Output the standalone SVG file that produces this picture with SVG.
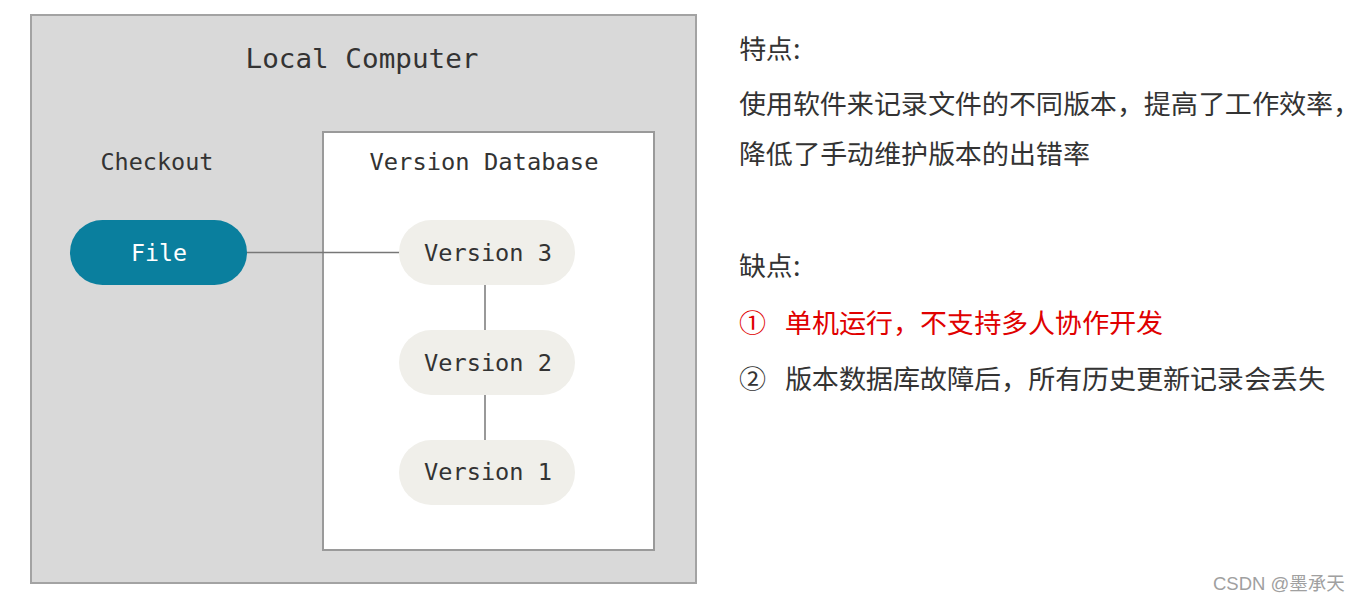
<svg xmlns="http://www.w3.org/2000/svg" width="1360" height="603" viewBox="0 0 1360 603">
<style>
.mono{font-family:"DejaVu Sans Mono","Liberation Mono",monospace;fill:#333;}
.cn{font-family:"Noto Sans SC","Noto Sans CJK SC",sans-serif;font-size:27px;fill:#333;}
.ver{fill:#f0efea;}
.conn{stroke:#777;stroke-width:1.5;fill:none;}
</style>
<rect width="1360" height="603" fill="#ffffff"/>
<g id="local-computer">
<rect x="31" y="15" width="665" height="568" fill="#d9d9d9" stroke="#a3a3a3" stroke-width="2"/>
<text class="mono" x="362" y="68" font-size="27" text-anchor="middle" textLength="233" lengthAdjust="spacingAndGlyphs">Local Computer</text>
</g>
<g id="checkout">
<text class="mono" x="157" y="170" font-size="23" text-anchor="middle" textLength="113" lengthAdjust="spacingAndGlyphs">Checkout</text>
</g>
<g id="version-database">
<rect x="323" y="132" width="331" height="418" fill="#ffffff" stroke="#9a9a9a" stroke-width="2"/>
<text class="mono" x="484" y="170" font-size="23" text-anchor="middle" textLength="229" lengthAdjust="spacingAndGlyphs">Version Database</text>
</g>
<g id="connectors">
<line class="conn" x1="246" y1="252.5" x2="400" y2="252.5"/>
<line class="conn" x1="485" y1="284" x2="485" y2="331"/>
<line class="conn" x1="485" y1="394" x2="485" y2="441"/>
</g>
<g id="file">
<rect x="70" y="220" width="177" height="65" rx="32.5" fill="#0a7f9e"/>
<text class="mono" x="159" y="261" font-size="23" text-anchor="middle" style="fill:#ffffff" textLength="56" lengthAdjust="spacingAndGlyphs">File</text>
</g>
<g id="version-3">
<rect class="ver" x="399" y="220" width="176" height="65" rx="32.5"/>
<text class="mono" x="488" y="261" font-size="23" text-anchor="middle" textLength="128" lengthAdjust="spacingAndGlyphs">Version 3</text>
</g>
<g id="version-2">
<rect class="ver" x="399" y="330" width="176" height="65" rx="32.5"/>
<text class="mono" x="488" y="371" font-size="23" text-anchor="middle" textLength="128" lengthAdjust="spacingAndGlyphs">Version 2</text>
</g>
<g id="version-1">
<rect class="ver" x="399" y="440" width="176" height="65" rx="32.5"/>
<text class="mono" x="488" y="480" font-size="23" text-anchor="middle" textLength="128" lengthAdjust="spacingAndGlyphs">Version 1</text>
</g>
<g id="notes">
<text class="cn" x="739" y="59">特点:</text>
<text class="cn" x="739" y="114">使用软件来记录文件的不同版本，提高了工作效率，</text>
<text class="cn" x="739" y="164">降低了手动维护版本的出错率</text>
<text class="cn" x="739" y="276">缺点:</text>
<text class="cn" x="739" y="333" style="fill:#e00000">①</text>
<text class="cn" x="785" y="333" style="fill:#e00000">单机运行，不支持多人协作开发</text>
<text class="cn" x="739" y="389">②</text>
<text class="cn" x="785" y="389">版本数据库故障后，所有历史更新记录会丢失</text>
</g>
<text x="1213" y="590" font-family="'Liberation Sans','Noto Sans CJK SC',sans-serif" font-size="18.5" fill="#a0a0a0">CSDN @墨承天</text>
</svg>
